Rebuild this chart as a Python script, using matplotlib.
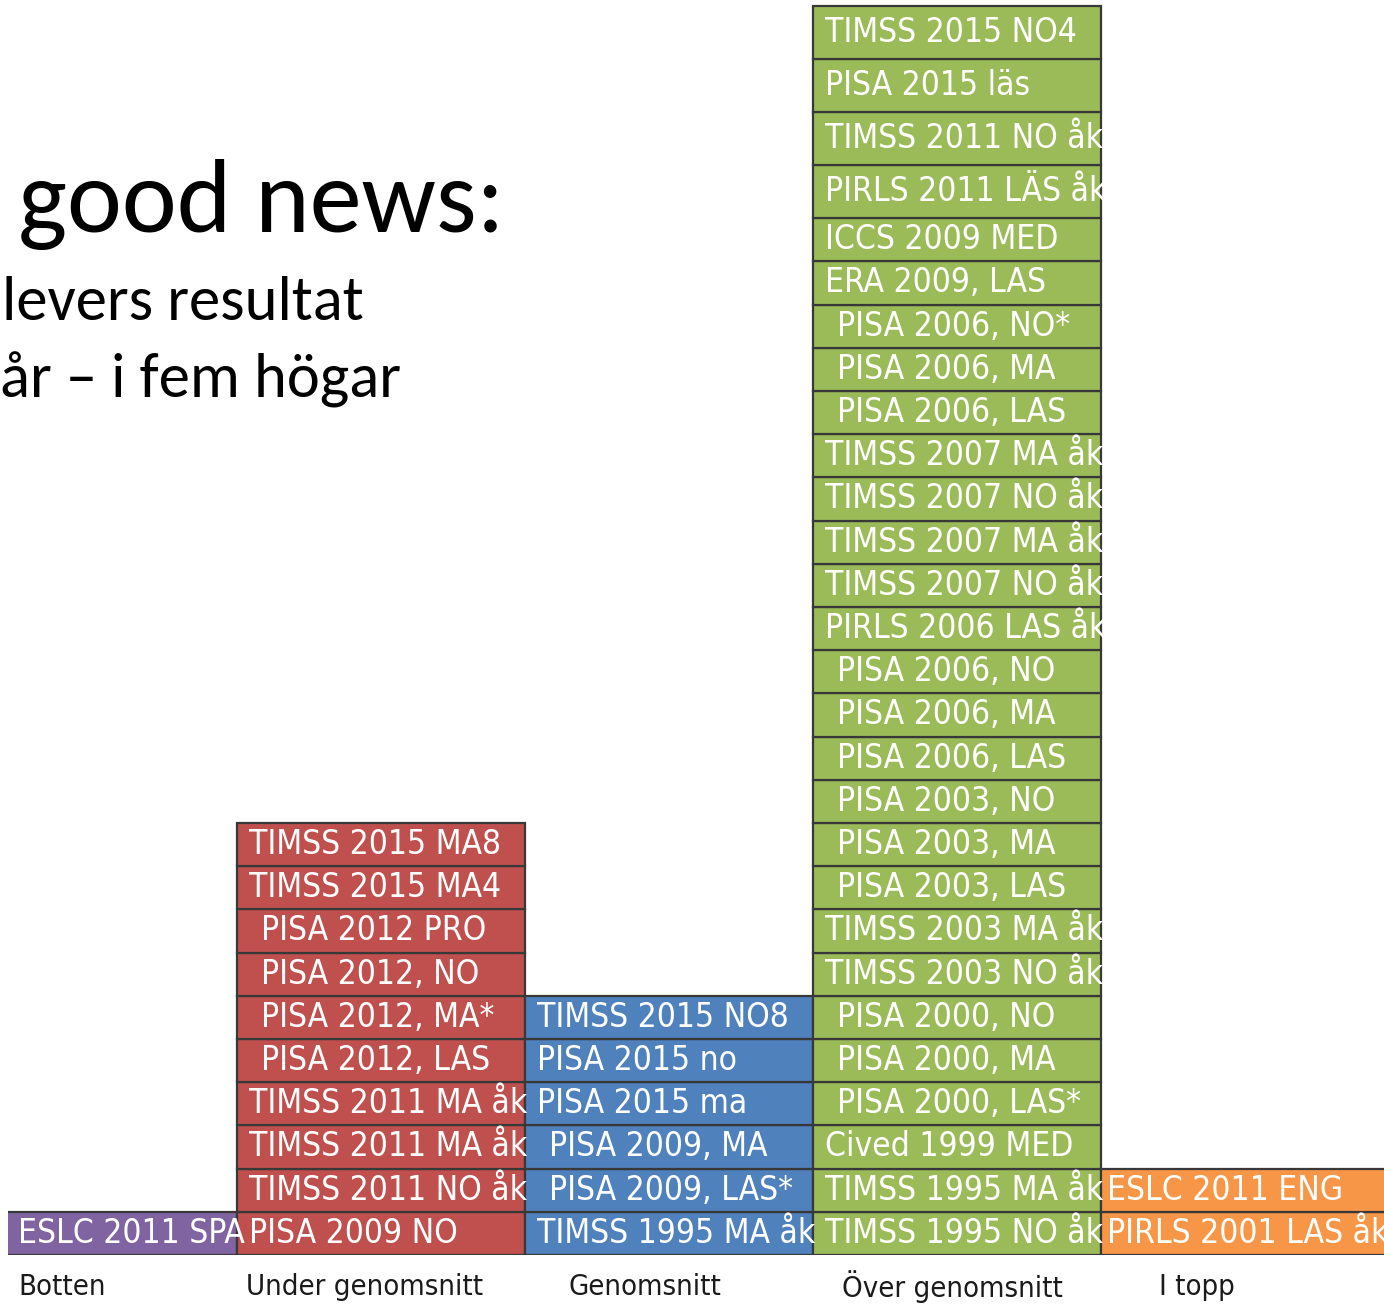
import matplotlib.pyplot as plt
from matplotlib.transforms import Bbox, TransformedBbox

groups = ["Botten", "Under genomsnitt", "Genomsnitt", "Över genomsnitt", "I topp"]
colors = ["#8064A2", "#C0504D", "#4F81BD", "#9BBB59", "#F79646"]

# studies in each pile, read top to bottom
botten = ["ESLC 2011 SPA"]
under = ["TIMSS 2015 MA8", "TIMSS 2015 MA4", "PISA 2012 PRO", "PISA 2012, NO",
         "PISA 2012, MA*", "PISA 2012, LAS", "TIMSS 2011 MA åk", "TIMSS 2011 MA åk",
         "TIMSS 2011 NO åk", "PISA 2009 NO"]
genomsnitt = ["TIMSS 2015 NO8", "PISA 2015 no", "PISA 2015 ma", "PISA 2009, MA",
              "PISA 2009, LAS*", "TIMSS 1995 MA åk"]
over = ["TIMSS 2015 NO4", "PISA 2015 läs", "TIMSS 2011 NO åk", "PIRLS 2011 LÄS åk",
        "ICCS 2009 MED", "ERA 2009, LAS", "PISA 2006, NO*", "PISA 2006, MA",
        "PISA 2006, LAS", "TIMSS 2007 MA åk", "TIMSS 2007 NO åk", "TIMSS 2007 MA åk",
        "TIMSS 2007 NO åk", "PIRLS 2006 LAS åk", "PISA 2006, NO", "PISA 2006, MA",
        "PISA 2006, LAS", "PISA 2003, NO", "PISA 2003, MA", "PISA 2003, LAS",
        "TIMSS 2003 MA åk", "TIMSS 2003 NO åk", "PISA 2000, NO", "PISA 2000, MA",
        "PISA 2000, LAS*", "Cived 1999 MED", "TIMSS 1995 MA åk", "TIMSS 1995 NO åk"]
topp = ["ESLC 2011 ENG", "PIRLS 2001 LAS åk"]

piles = [botten, under, genomsnitt, over, topp]

# layout helpers (pixels of the 1384x1304 image)
W, H = 1384, 1304
unit_px = 43.2
col_px = 288
base_px = 1255
n_tall = {3: 4}          # top boxes of the green pile are drawn a bit taller
tall_h = 1.23
label_off = [0.24, 0.03, 0.15, 0.10, 0.20]

fig = plt.figure(figsize=(W / 100, H / 100), dpi=100)
ax = fig.add_axes([8 / W, (H - base_px) / H, (W - 8) / W, base_px / H])
x_left = 0.5 + (8 - 237) / col_px
x_right = 0.5 + (W - 237) / col_px
ax.set_xlim(x_left, x_right)
ax.set_ylim(0, base_px / unit_px)
ax.axis('off')

for i, pile in enumerate(piles):
    bottom = 0.0
    n = len(pile)
    for j, name in enumerate(reversed(pile)):
        h = tall_h if j >= n - n_tall.get(i, 0) else 1.0
        ax.bar(i, h, bottom=bottom, width=1.0, color=colors[i],
               edgecolor='#383838', linewidth=1.6)
        pad = 0.085 if (name.startswith("PISA 20") and ("," in name or "PRO" in name)) else 0.04
        if i == 0:
            pad = 0.24
        if i == 4:
            pad = 0.02
        t = ax.text(i - 0.5 + pad, bottom + h / 2, name, color='white',
                    fontsize=24, family='DejaVu Sans', fontstretch='condensed',
                    va='center', ha='left')
        box = Bbox([[i - 0.5, bottom], [i + 0.5, bottom + h]])
        t.set_clip_box(TransformedBbox(box, ax.transData))
        bottom += h
    ax.text(i - 0.5 + label_off[i], -(1287 - base_px) / unit_px, groups[i],
            fontsize=21, family='DejaVu Sans', fontstretch='condensed',
            va='center', ha='left', color='#1a1a1a', clip_on=False)

title_font = ['Carlito', 'Lato', 'DejaVu Sans']
fig.text(18 / W, 1 - 232 / H, "good news:", fontsize=75, family=title_font,
         va='baseline', ha='left')
fig.text(2 / W, 1 - 320 / H, "levers resultat", fontsize=45, family=title_font,
         va='baseline', ha='left')
fig.text(0 / W, 1 - 397 / H, "år – i fem högar", fontsize=45, family=title_font,
         va='baseline', ha='left')

fig.savefig("out.png", dpi=100)
